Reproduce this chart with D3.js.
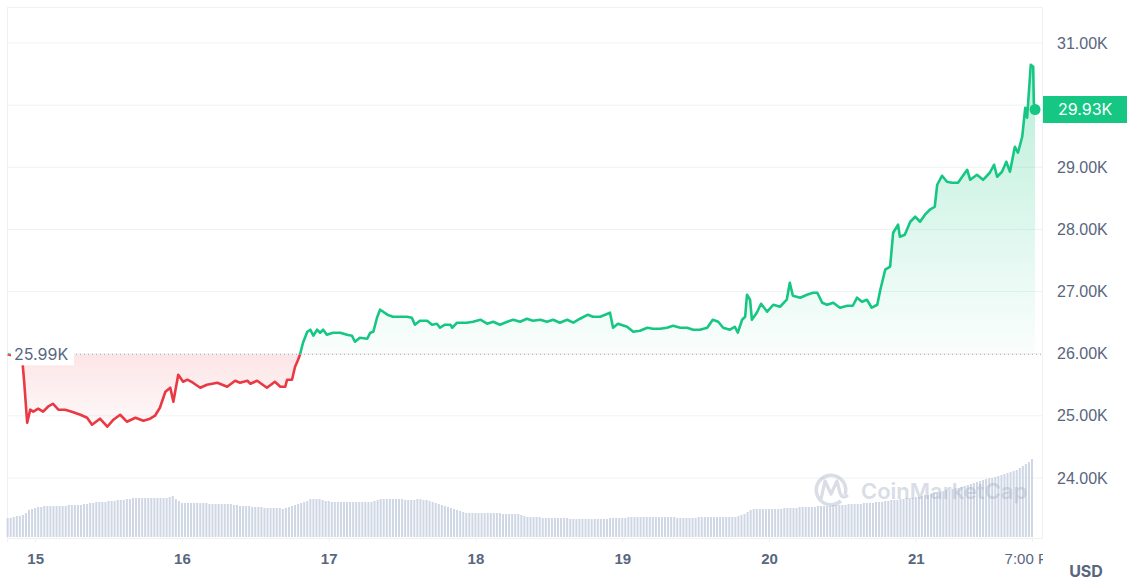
<!DOCTYPE html>
<html><head><meta charset="utf-8">
<script src="https://cdn.jsdelivr.net/npm/d3@7"></script>
<style>
body{margin:0;background:#fff;}
svg{display:block;font-family:Inter,"Noto Sans",sans-serif;}
</style>
</head><body>
<svg id="c" width="1134" height="584"></svg>
<script>
// ---------- DATA ----------
// hours relative to day 15 00:00
const priceHours = [-4.5,-3.3,-2.1,-1.8,-1.3,-0.8,-0.3,0.5,1.3,2.1,2.9,3.8,4.9,6.0,7.4,8.5,9.3,10.6,11.8,12.8,13.9,15.0,16.4,17.7,18.8,19.6,20.4,21.3,22.1,22.6,23.4,24.2,24.9,25.8,27.0,28.1,29.8,31.4,32.7,33.5,34.7,35.2,36.3,37.9,39.2,40.1,40.9,41.2,42.0,42.5,43.0,43.3,43.8,44.5,45.0,45.5,46.1,46.6,47.1,47.7,48.7,49.9,51.0,51.8,52.3,53.1,54.3,54.8,55.3,55.9,56.4,56.9,57.6,58.5,59.7,60.8,61.6,62.1,62.9,64.1,64.9,65.7,66.2,67.0,67.9,68.2,69.0,70.6,71.6,72.8,73.9,74.9,76.0,77.2,78.2,79.3,80.4,81.4,82.6,83.7,84.7,85.8,87.0,88.0,89.1,90.4,91.2,92.4,94.0,94.5,95.3,96.8,97.8,98.9,100.1,101.0,102.2,103.3,104.3,105.5,106.6,107.6,108.7,109.9,110.8,111.7,112.5,113.6,114.4,114.9,115.6,116.1,116.4,116.9,117.2,118.0,118.7,119.7,120.7,121.8,122.9,123.4,123.9,125.1,126.2,127.2,127.9,128.7,129.5,130.5,131.6,132.8,133.7,134.4,135.2,136.0,136.8,137.7,138.2,139.0,139.8,140.3,141.1,141.4,142.2,143.1,143.9,144.7,145.5,146.3,147.1,147.5,148.3,149.1,149.9,150.9,152.4,152.9,154.0,155.0,156.1,156.8,157.3,158.1,158.8,159.4,160.2,160.7,161.4,161.9,162.2,162.8,163.2,163.3,163.5];
const prices = [25990,25960,25900,25560,24890,25100,25067,25115,25067,25147,25195,25099,25099,25067,25018,24970,24858,24954,24825,24938,25018,24906,24970,24922,24954,25002,25131,25388,25453,25228,25662,25549,25582,25533,25453,25501,25533,25469,25565,25533,25565,25517,25565,25453,25549,25469,25469,25582,25582,25791,25903,25984,26177,26354,26386,26290,26386,26338,26386,26306,26338,26338,26306,26290,26193,26257,26241,26338,26354,26579,26708,26676,26628,26595,26595,26595,26579,26467,26531,26531,26467,26483,26418,26467,26467,26418,26499,26499,26515,26547,26483,26515,26467,26515,26547,26515,26563,26531,26547,26515,26547,26499,26547,26499,26563,26628,26595,26595,26660,26418,26483,26434,26354,26370,26418,26402,26402,26418,26450,26418,26418,26386,26386,26418,26547,26515,26418,26386,26434,26338,26547,26595,26949,26869,26547,26660,26804,26676,26788,26756,26869,27142,26933,26901,26949,26981,26981,26820,26788,26820,26740,26772,26772,26901,26836,26869,26740,26788,27030,27352,27400,27947,28076,27883,27915,28124,28204,28124,28237,28317,28365,28719,28864,28767,28751,28751,28960,28799,28880,28799,28912,29041,28848,28928,29089,28928,29330,29234,29491,29958,29797,30650,30617,30038,29930];
// 24h volume, hundreds of millions USD (one bar every 30 minutes)
const volStartHour = -4.5, volStepHour = 0.5;
const volumes = [19,19,20,21,21,22,24,27,28,29,30,30,31,31,31,31,31,31,31,31,32,32,32,32,32,33,33,34,34,35,35,35,35,36,36,36,37,37,37,38,38,39,39,39,39,39,39,39,39,39,39,39,39,40,41,38,36,34,34,34,34,34,34,34,34,34,33,33,33,33,33,33,33,33,32,32,31,31,31,31,30,30,30,30,29,29,29,29,29,29,28,29,30,31,32,33,34,35,36,38,38,38,38,37,36,36,35,35,35,35,35,35,35,35,35,35,35,35,35,35,36,37,38,38,38,38,38,38,38,38,37,37,37,37,38,38,37,37,36,35,34,33,32,31,30,29,28,27,26,25,24,24,24,24,24,24,24,24,24,24,24,24,23,23,23,23,23,23,22,21,20,20,20,20,20,19,19,19,19,19,19,19,19,19,18,18,18,18,18,18,18,18,18,18,18,18,18,19,19,19,19,19,19,20,20,20,20,20,20,20,20,20,20,20,20,20,20,20,20,19,19,19,19,19,19,19,20,20,20,20,20,20,20,20,20,20,20,20,20,21,22,23,25,27,28,28,28,28,28,28,28,28,28,28,29,29,29,29,29,30,30,30,30,30,30,31,31,31,31,31,32,32,32,32,32,33,33,33,33,33,34,34,34,34,35,35,35,36,36,37,37,37,38,38,39,39,39,40,40,41,42,42,43,44,44,45,46,47,47,48,49,49,50,51,52,53,54,55,56,57,58,59,59,60,61,62,63,64,65,66,67,69,71,73,75,78];
const priceTicks = [24000,25000,26000,27000,28000,29000,30000,31000];
const dayTickHours = [0,24,48,72,96,120,144];
const lastTickHour = 163; // 7:00 PM on day 21
const openPrice = 25990;
const lastPrice = 29930;
const currencyLabel = "USD";
const watermark = "CoinMarketCap";

// ---------- SETUP ----------
const base = Date.UTC(2023, 9, 15, 0, 0);
const hd = h => new Date(base + h * 3600000);
const GREEN = "#16c784", RED = "#ea3943", TXT = "#58667e", GRID = "#eff2f5";
const L = 7, R = 1043, T = 7, B = 538;

const svg = d3.select("#c");
const defs = svg.append("defs");

const x = d3.scaleUtc().domain([hd(-4.6), hd(164.8)]).range([L, R]);
const y = d3.scaleLinear().domain([24000, 31000]).range([478, 43]);
const yVol = d3.scaleLinear().domain([0, 100]).range([537, 437]);
const yBase = y(openPrice);

const data = priceHours.map((h, i) => ({t: hd(h), p: prices[i]}));

// gradients
const gG = defs.append("linearGradient").attr("id", "gGreen").attr("gradientUnits", "userSpaceOnUse")
  .attr("x1", 0).attr("x2", 0).attr("y1", y(d3.max(prices))).attr("y2", yBase);
gG.append("stop").attr("offset", 0).attr("stop-color", GREEN).attr("stop-opacity", 0.3);
gG.append("stop").attr("offset", 1).attr("stop-color", GREEN).attr("stop-opacity", 0.02);
const gR = defs.append("linearGradient").attr("id", "gRed").attr("gradientUnits", "userSpaceOnUse")
  .attr("x1", 0).attr("x2", 0).attr("y1", yBase).attr("y2", y(d3.min(prices)));
gR.append("stop").attr("offset", 0).attr("stop-color", RED).attr("stop-opacity", 0.13);
gR.append("stop").attr("offset", 1).attr("stop-color", RED).attr("stop-opacity", 0.03);

defs.append("clipPath").attr("id", "cAbove").append("rect").attr("x", 0).attr("y", 0).attr("width", R).attr("height", yBase);
defs.append("clipPath").attr("id", "cBelow").append("rect").attr("x", 0).attr("y", yBase).attr("width", R).attr("height", B - yBase);
// clip in the x-axis group's own coordinates (group is translated to y = B)
defs.append("clipPath").attr("id", "cXlab").append("rect").attr("x", 0).attr("y", -2).attr("width", R).attr("height", 50);

// grid lines
svg.append("g").selectAll("line").data(priceTicks).join("line")
  .attr("x1", L).attr("x2", R).attr("y1", d => y(d)).attr("y2", d => y(d))
  .attr("stroke", GRID).attr("stroke-width", 1);
// border
svg.append("rect").attr("x", L + 0.5).attr("y", T + 0.5).attr("width", R - L - 1).attr("height", B - T)
  .attr("fill", "none").attr("stroke", GRID);

// volume bars
svg.append("g").selectAll("rect").data(volumes).join("rect")
  .attr("x", (d, i) => x(hd(volStartHour + i * volStepHour)) - 1)
  .attr("width", 2)
  .attr("y", d => yVol(d))
  .attr("height", d => yVol(0) - yVol(d))
  .attr("fill", "#cfd6e4");

// watermark
const wm = svg.append("g").attr("opacity", 0.45);
wm.append("path").attr("d", d3.arc()({innerRadius: 13, outerRadius: 16.5, startAngle: 2.4, endAngle: 2 * Math.PI + 1.9}))
  .attr("transform", "translate(831,490)").attr("fill", "#a9b4c8");
wm.append("path").attr("d", "M821,499 L825,481 L831,494 L837,481 L840,493 Q842,499 847,496")
  .attr("fill", "none").attr("stroke", "#a9b4c8").attr("stroke-width", 3.2).attr("stroke-linejoin", "round").attr("stroke-linecap", "round");
wm.append("text").attr("x", 861).attr("y", 499).attr("font-size", 22).attr("font-weight", 600)
  .attr("fill", "#a9b4c8").text(watermark);

// areas
const area = d3.area().x(d => x(d.t)).y0(yBase).y1(d => y(d.p));
svg.append("path").datum(data).attr("d", area).attr("fill", "url(#gGreen)").attr("clip-path", "url(#cAbove)");
svg.append("path").datum(data).attr("d", area).attr("fill", "url(#gRed)").attr("clip-path", "url(#cBelow)");

// lines
const line = d3.line().x(d => x(d.t)).y(d => y(d.p));
svg.append("path").datum(data).attr("d", line).attr("fill", "none").attr("stroke", GREEN)
  .attr("stroke-width", 2.6).attr("stroke-linejoin", "round").attr("clip-path", "url(#cAbove)");
svg.append("path").datum(data).attr("d", line).attr("fill", "none").attr("stroke", RED)
  .attr("stroke-width", 2.6).attr("stroke-linejoin", "round").attr("clip-path", "url(#cBelow)");

// baseline dotted
svg.append("line").attr("x1", 76).attr("x2", R).attr("y1", yBase).attr("y2", yBase)
  .attr("stroke", "#a1a7bb").attr("stroke-width", 1).attr("stroke-dasharray", "1,3");
svg.append("rect").attr("x", 11).attr("y", yBase - 10).attr("width", 63).attr("height", 21).attr("fill", "#fff");
svg.append("text").attr("x", 14).attr("y", yBase).attr("dy", "0.35em").attr("font-size", 16)
  .attr("fill", TXT).text(d3.format(".2f")(openPrice / 1000) + "K");

// y axis labels
const fmtK = d => d3.format(".2f")(d / 1000) + "K";
const yAxis = svg.append("g").attr("transform", `translate(${R},0)`)
  .call(d3.axisRight(y).tickValues(priceTicks.filter(d => Math.abs(y(d) - y(lastPrice)) > 15)).tickFormat(fmtK).tickSize(0).tickPadding(14));
yAxis.select(".domain").remove();
yAxis.selectAll("text").attr("font-size", 16).attr("fill", TXT).attr("font-family", null);

// current price tag
svg.append("rect").attr("x", R).attr("y", y(lastPrice) - 13.5).attr("width", 84).attr("height", 27).attr("fill", GREEN);
svg.append("text").attr("x", R + 15).attr("y", y(lastPrice)).attr("dy", "0.35em").attr("font-size", 16)
  .attr("fill", "#fff").text(fmtK(lastPrice));
svg.append("circle").attr("cx", x(data[data.length - 1].t)).attr("cy", y(lastPrice)).attr("r", 5.5).attr("fill", GREEN);

// x axis
const xTicks = dayTickHours.map(hd).concat([hd(lastTickHour)]);
const xAxis = svg.append("g").attr("transform", `translate(0,${B})`)
  .attr("clip-path", "url(#cXlab)")
  .call(d3.axisBottom(x).tickValues(xTicks)
    .tickFormat(d => d.getUTCHours() === 0 ? d3.utcFormat("%-d")(d) : d3.utcFormat("%-I:%M %p")(d))
    .tickSize(4).tickPadding(11));
xAxis.select(".domain").attr("stroke", GRID);
xAxis.selectAll("line").attr("stroke", GRID);
xAxis.selectAll("text").attr("font-size", 15).attr("fill", TXT).attr("font-family", null)
  .attr("font-weight", d => d.getUTCHours() === 0 ? 600 : 400);

svg.append("text").attr("x", 1086).attr("y", 577).attr("text-anchor", "middle").attr("font-size", 16)
  .attr("font-weight", 700).attr("fill", TXT).text(currencyLabel);
</script>
</body></html>
